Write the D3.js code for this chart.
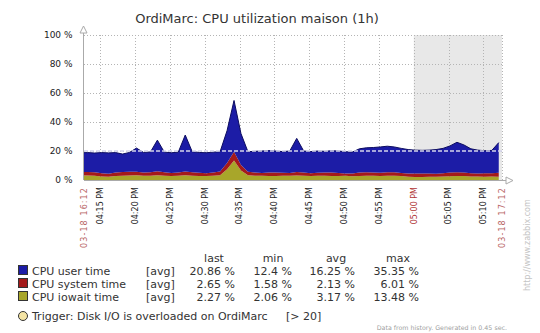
<!DOCTYPE html>
<html><head><meta charset="utf-8">
<script src="https://cdn.jsdelivr.net/npm/d3@7"></script>
<style>body{margin:0;background:#fff}svg{display:block;font-family:"DejaVu Sans",sans-serif}</style>
</head><body><svg id="c" width="540" height="333"></svg>
<script>
const title = "OrdiMarc: CPU utilization maison (1h)";
const periodStart = "2013-03-18T16:12:40";
const periodEnd = "2013-03-18T17:12:40";
const firstSample = "2013-03-18T16:12:12";
const sampleStepSec = 60;
const shadeFrom = "2013-03-18T17:00:00";
const yTicks = [0, 20, 40, 60, 80, 100];
const xTickTimes = ["16:15","16:20","16:25","16:30","16:35","16:40","16:45","16:50","16:55","17:00","17:05","17:10"];
const xTickLabels = ["04:15 PM","04:20 PM","04:25 PM","04:30 PM","04:35 PM","04:40 PM","04:45 PM","04:50 PM","04:55 PM","05:00 PM","05:05 PM","05:10 PM"];
const xEdgeLabels = ["03-18 16:12", "03-18 17:12"];
const seriesNames = ["CPU user time", "CPU system time", "CPU iowait time"];
const seriesColors = ["#1c1ca6", "#a41a1a", "#a8a62a"];
const userTime = [13.2,13.4,13.2,14.3,14.4,13.8,12.4,13.3,16.3,13.8,14.0,21.5,13.9,13.9,14.0,25.1,14.1,14.0,14.1,14.0,13.7,22.3,35.35,21.7,13.8,14.6,15.1,15.2,14.9,14.6,15.1,23.2,14.9,14.9,15.0,14.6,15.1,15.1,15.0,14.9,16.4,16.8,17.2,17.8,18.0,17.5,17.0,16.6,16.2,16.0,16.1,16.7,17.1,18.4,20.6,19.1,16.8,16.1,15.6,15.8,20.86];
const systemTime = [2.6,2.4,2.5,2.2,2.0,2.3,2.5,2.6,2.5,2.2,2.4,2.8,2.3,2.1,2.3,2.6,2.4,2.2,2.0,2.3,2.6,4.2,6.01,3.8,2.5,2.2,2.0,2.3,2.4,2.1,1.9,2.4,2.2,1.9,2.0,2.3,2.4,2.1,1.58,1.8,2.3,2.4,2.3,2.2,2.4,2.3,2.1,2.2,2.3,2.4,2.2,2.1,2.3,2.5,2.6,2.4,2.2,2.1,2.3,2.2,2.65];
const iowaitTime = [3.0,3.1,2.9,2.4,2.3,2.8,3.0,3.1,3.2,3.0,2.9,3.2,3.0,2.8,2.9,3.3,3.0,2.8,2.7,2.9,3.2,7.5,13.48,6.5,3.2,3.0,2.9,2.8,2.7,2.9,3.0,3.1,2.9,2.8,3.0,2.9,2.7,2.8,2.9,2.6,2.8,3.0,2.9,2.8,2.9,3.0,2.7,2.2,2.1,2.06,2.3,2.2,2.4,2.6,2.8,2.7,2.5,2.4,2.3,2.4,2.27];
const legendHeaders = ["last", "min", "avg", "max"];
const legendFunc = "[avg]";
const legendLast = ["20.86 %", "2.65 %", "2.27 %"];
const legendMin = ["12.4 %", "1.58 %", "2.06 %"];
const legendAvg = ["16.25 %", "2.13 %", "3.17 %"];
const legendMax = ["35.35 %", "6.01 %", "13.48 %"];
const triggerValue = 20;
const triggerText = "Trigger: Disk I/O is overloaded on OrdiMarc";
const triggerCond = "[> 20]";
const footerText = "Data from history. Generated in 0.45 sec.";
const sideText = "http://www.zabbix.com";

const svg = d3.select("#c");
const L = 84, R = 502, T = 35, B = 180;
const parse = s => new Date(s);
const day = "2013-03-18T";
const x = d3.scaleTime().domain([parse(periodStart), parse(periodEnd)]).range([L, R]);
const y = d3.scaleLinear().domain([0, 100]).range([B, T]);

const t0 = parse(firstSample);
const rows = userTime.map((u, i) => ({
  t: d3.timeSecond.offset(t0, i * sampleStepSec),
  user: u, system: systemTime[i], iowait: iowaitTime[i]
}));

// title
svg.append("text").attr("x", 257).attr("y", 23).attr("text-anchor", "middle")
  .attr("font-size", 13).attr("fill", "#333").text(title);

// shaded region
svg.append("rect").attr("x", x(parse(shadeFrom))).attr("y", T)
  .attr("width", R - x(parse(shadeFrom))).attr("height", B - T).attr("fill", "#e8e8e8");

// grid
const grid = svg.append("g").attr("stroke", "#b4b4b4").attr("stroke-dasharray", "1,2").attr("stroke-width", 1);
yTicks.filter(v => v > 0).forEach(v => grid.append("line").attr("x1", L).attr("x2", R)
  .attr("y1", Math.round(y(v)) + 0.5).attr("y2", Math.round(y(v)) + 0.5));
xTickTimes.forEach(tt => { const xx = Math.round(x(parse(day + tt + ":00"))) + 0.5;
  grid.append("line").attr("x1", xx).attr("x2", xx).attr("y1", T).attr("y2", B); });
grid.append("line").attr("x1", R + 0.5).attr("x2", R + 0.5).attr("y1", T).attr("y2", B);

// clip
svg.append("clipPath").attr("id", "pc").append("rect").attr("x", L).attr("y", T - 5).attr("width", R - L).attr("height", B - T + 5);

const stack = d3.stack().keys(["iowait", "system", "user"]);
const layers = stack(rows);
const colorByKey = {user: seriesColors[0], system: seriesColors[1], iowait: seriesColors[2]};
const area = d3.area().x(d => x(d.data.t)).y0(d => y(d[0])).y1(d => y(d[1]));
const g = svg.append("g").attr("clip-path", "url(#pc)");
layers.forEach(ly => {
  g.append("path").datum(ly).attr("d", area).attr("fill", colorByKey[ly.key]);
});
const topLine = d3.line().x(d => x(d.data.t)).y(d => y(d[1]));
g.append("path").datum(layers[2]).attr("d", topLine).attr("fill", "none").attr("stroke", "#0c0c60").attr("stroke-width", 1);

// trigger line
svg.append("line").attr("x1", L).attr("x2", R).attr("y1", y(triggerValue)).attr("y2", y(triggerValue))
  .attr("stroke", "#d4d4ec").attr("stroke-width", 1.5).attr("stroke-dasharray", "4,2");

// axes
const ax = svg.append("g").attr("stroke", "#aaa").attr("fill", "none").attr("stroke-width", 1);
ax.append("line").attr("x1", L - 0.5).attr("x2", L - 0.5).attr("y1", B).attr("y2", T - 7);
ax.append("path").attr("d", `M${L - 4},${T - 2} L${L - 0.5},${T - 9} L${L + 3},${T - 2} Z`).attr("fill", "#fff");
ax.append("line").attr("x1", L).attr("x2", R + 8).attr("y1", B + 0.5).attr("y2", B + 0.5);
ax.append("path").attr("d", `M${R + 4},${B - 3} L${R + 11},${B + 0.5} L${R + 4},${B + 4} Z`).attr("fill", "#fff");

// y labels
yTicks.forEach(v => svg.append("text").attr("x", 72.5).attr("y", y(v)).attr("dy", "0.35em")
  .attr("text-anchor", "end").attr("font-size", 9).attr("fill", "#222").text(v + " %"));

// x labels
const xl = (xx, txt, col, ls) => svg.append("text")
  .attr("transform", `translate(${xx},187) rotate(-90)`).attr("text-anchor", "end").attr("dy", "0.35em")
  .attr("font-size", 8).attr("fill", col).attr("letter-spacing", ls).text(txt);
xTickTimes.forEach((tt, i) => xl(x(parse(day + tt + ":00")), xTickLabels[i], tt === "17:00" ? "#b03434" : "#222", 0));
xl(x(parse(periodStart)), xEdgeLabels[0], "#b86464", 1.1);
xl(x(parse(periodEnd)), xEdgeLabels[1], "#b86464", 1.1);

// side text
svg.append("text").attr("transform", "translate(527,291) rotate(-90)").attr("dy", "0.35em")
  .attr("font-size", 8).attr("fill", "#c4c4c4").text(sideText);

// legend
const lg = svg.append("g").attr("font-size", 11).attr("fill", "#333");
const colRight = [235, 292, 355, 419];
const colHead = [214, 273, 336, 398];
legendHeaders.forEach((h, i) => lg.append("text").attr("x", colHead[i]).attr("y", 262).attr("text-anchor", "middle").text(h));
const rowsY = [271, 284, 297];
const cols = [legendLast, legendMin, legendAvg, legendMax];
seriesNames.forEach((n, i) => {
  const cy = rowsY[i];
  lg.append("rect").attr("x", 18.5).attr("y", cy - 5.5).attr("width", 9).attr("height", 9)
    .attr("fill", seriesColors[i]).attr("stroke", "#333").attr("stroke-width", 1);
  lg.append("text").attr("x", 32).attr("y", cy + 4).text(n);
  lg.append("text").attr("x", 146).attr("y", cy + 4).text(legendFunc);
  cols.forEach((c, j) => lg.append("text").attr("x", colRight[j]).attr("y", cy + 4).attr("text-anchor", "end").text(c[i]));
});
lg.append("circle").attr("cx", 23).attr("cy", 316).attr("r", 4.5).attr("fill", "#f4e4a4").attr("stroke", "#333").attr("stroke-width", 1);
lg.append("text").attr("x", 32).attr("y", 320).text(triggerText);
lg.append("text").attr("x", 286).attr("y", 320).text(triggerCond);

svg.append("text").attr("x", 507).attr("y", 330).attr("text-anchor", "end").attr("font-size", 6.3)
  .attr("fill", "#a0a0a0").text(footerText);
</script></body></html>
